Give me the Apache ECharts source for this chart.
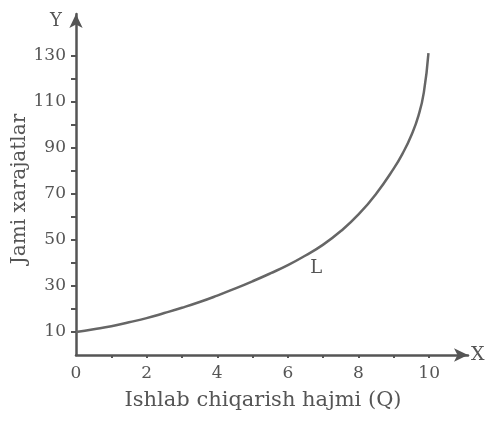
<!DOCTYPE html>
<html><head><meta charset="utf-8">
<script src="https://cdn.jsdelivr.net/npm/echarts@6/dist/echarts.min.js"></script>
<style>html,body{margin:0;padding:0;background:#fff}#c{width:496px;height:421px}</style>
</head><body><div id="c"></div>
<script>
var qValues = [0, 0.5, 1, 1.5, 2, 2.5, 3, 3.5, 4, 4.5, 5, 5.5, 6, 6.5, 7, 7.5, 8, 8.5, 9, 9.25, 9.5, 9.7, 9.85, 9.98];
var costValues = [10, 11.2, 12.5, 14.2, 16, 18.2, 20.5, 23, 25.8, 28.8, 32, 35.4, 39, 43.2, 47.9, 53.8, 61, 70, 81, 87.5, 95.5, 104, 114, 131];
var xTickValues = [1, 2, 3, 4, 5, 6, 7, 8, 9, 10];
var xLabelValues = [0, 2, 4, 6, 8, 10];
var yTickValues = [10, 20, 30, 40, 50, 60, 70, 80, 90, 100, 110, 120, 130];
var yLabelValues = [10, 30, 50, 70, 90, 110, 130];
var curveName = 'L';
var labelPoint = [6.8, 37.5];

var font = 'DejaVu Serif';
var ink = '#555';
var chart = echarts.init(document.getElementById('c'));
chart.setOption({
  animation: false,
  grid: { left: 76, right: 28, top: 14, bottom: 66 },
  xAxis: {
    type: 'value', min: 0, max: 11.1,
    name: 'X', nameLocation: 'end', nameGap: 3,
    nameTextStyle: { fontFamily: font, fontSize: 19, color: ink, verticalAlign: 'middle' },
    axisLine: { lineStyle: { color: ink, width: 2.5 }, symbol: ['none', 'arrow'], symbolSize: [10, 14] },
    axisTick: { show: true, customValues: xTickValues, length: 3, lineStyle: { color: ink, width: 2 } },
    axisLabel: { customValues: xLabelValues, fontFamily: font, fontSize: 17, color: ink, margin: 10 },
    splitLine: { show: false }
  },
  yAxis: {
    type: 'value', min: 0, max: 148,
    axisLine: { lineStyle: { color: ink, width: 2.5 }, symbol: ['none', 'arrow'], symbolSize: [10, 14] },
    axisTick: { show: true, customValues: yTickValues, length: 5, lineStyle: { color: ink, width: 2 } },
    axisLabel: { customValues: yLabelValues, fontFamily: font, fontSize: 17, color: ink, margin: 10 },
    splitLine: { show: false }
  },
  graphic: [
    { type: 'text', left: 50, top: 12, style: { text: 'Y', font: '18px "DejaVu Serif"', fill: ink } },
    { type: 'text', x: 20, y: 189, rotation: Math.PI / 2, style: { text: 'Jami xarajatlar', font: '20px "DejaVu Serif"', fill: ink, align: 'center', verticalAlign: 'middle' } },
    { type: 'text', x: 263, y: 401, style: { text: 'Ishlab chiqarish hajmi (Q)', font: '21px "DejaVu Serif"', fill: ink, align: 'center', verticalAlign: 'middle' } }
  ],
  series: [{
    type: 'line', smooth: 0.5, symbol: 'none',
    data: qValues.map(function (q, i) { return [q, costValues[i]]; }),
    lineStyle: { color: '#666', width: 2.5 },
    markPoint: {
      symbol: 'circle', symbolSize: 0,
      label: { show: true, formatter: curveName, fontFamily: font, fontSize: 18, color: ink },
      data: [{ coord: labelPoint }]
    }
  }]
});
</script></body></html>
